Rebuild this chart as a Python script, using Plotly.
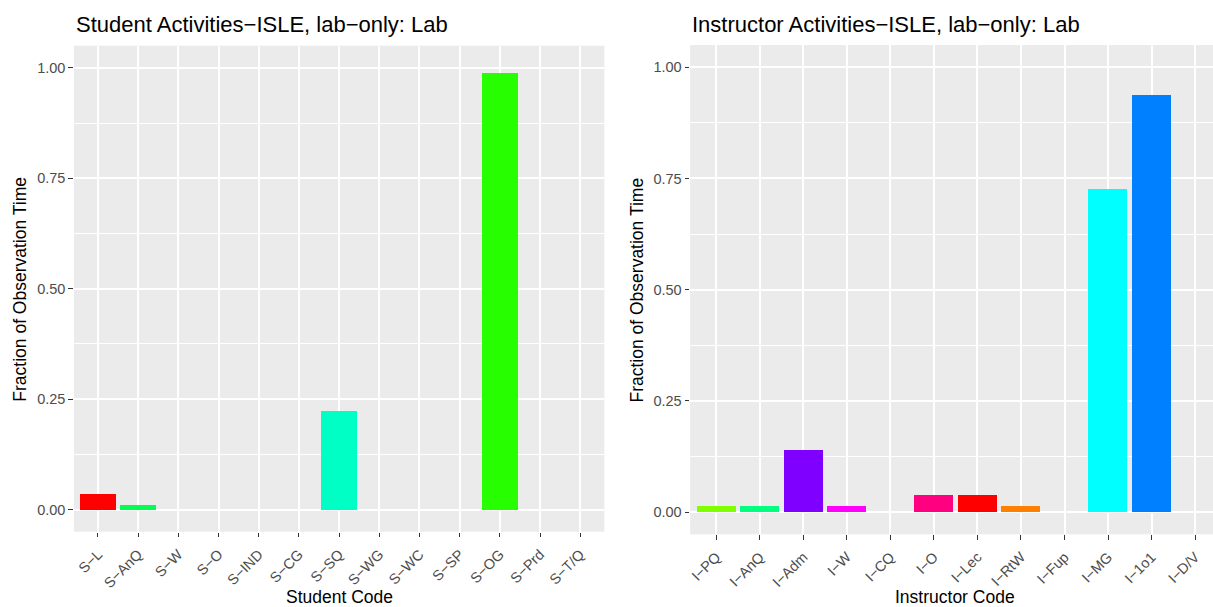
import plotly.graph_objects as go

# ---------------- data ----------------
student_codes = ["S−L", "S−AnQ", "S−W", "S−O", "S−IND", "S−CG", "S−SQ",
                 "S−WG", "S−WC", "S−SP", "S−OG", "S−Prd", "S−T/Q"]
student_values = [0.036, 0.012, 0, 0, 0, 0, 0.2245, 0, 0, 0, 0.988, 0, 0]
student_colors = ["#FF0000", "#00FF4E", "#FFD500", "#0062FF", "#FF7600", "#8900FF",
                  "#00FFC4", "#EBFF00", "#0003FF", "#FF00E2", "#27FF00", "#FF0041", "#00B0FF"]

instructor_codes = ["I−PQ", "I−AnQ", "I−Adm", "I−W", "I−CQ", "I−O", "I−Lec",
                    "I−RtW", "I−Fup", "I−MG", "I−1o1", "I−D/V"]
instructor_values = [0.0128, 0.0128, 0.139, 0.0128, 0, 0.0375, 0.0375,
                     0.0128, 0, 0.727, 0.938, 0]
instructor_colors = ["#80FF00", "#00FF80", "#8000FF", "#FF00FF", "#FFFF00", "#FF0080",
                     "#FF0000", "#FF8000", "#00FF00", "#00FFFF", "#0080FF", "#0000FF"]

y_ticks = [0, 0.25, 0.5, 0.75, 1.0]
y_ticktext = ["0.00", "0.25", "0.50", "0.75", "1.00"]

W, H = 1213, 607
FONT = "Liberation Sans, Arial, Helvetica, sans-serif"

fig = go.Figure()
fig.add_trace(go.Bar(x=student_codes, y=student_values, marker_color=student_colors,
                     marker_line_width=0, width=0.9, xaxis="x", yaxis="y",
                     showlegend=False, hoverinfo="x+y"))
fig.add_trace(go.Bar(x=instructor_codes, y=instructor_values, marker_color=instructor_colors,
                     marker_line_width=0, width=0.9, xaxis="x2", yaxis="y2",
                     showlegend=False, hoverinfo="x+y"))


def px_x(p):
    return p / W


def px_y(p):
    return 1 - p / H


tickfont = dict(family=FONT, size=14.5, color="#4D4D4D")
common_x = dict(type="category", showgrid=True, gridcolor="white", gridwidth=2,
                ticks="outside", ticklen=4.6, tickwidth=1.1, tickcolor="#333333",
                tickangle=-45, tickfont=tickfont, zeroline=False, showline=False,
                ticklabelstandoff=3, fixedrange=True)
common_y = dict(showgrid=True, gridcolor="white", gridwidth=2, tickvals=y_ticks,
                ticktext=y_ticktext, ticks="outside", ticklen=4.6, tickwidth=1.1,
                tickcolor="#333333", tickfont=tickfont, zeroline=False,
                showline=False, range=[-0.05, 1.05], fixedrange=True,
                minor=dict(tickvals=[0.125, 0.375, 0.625, 0.875], showgrid=True,
                           gridcolor="white", gridwidth=1, ticks=""))

fig.update_layout(
    width=W, height=H,
    margin=dict(l=0, r=0, t=0, b=0),
    paper_bgcolor="white", plot_bgcolor="#EBEBEB",
    font=dict(family=FONT),
    bargap=0,
    xaxis=dict(common_x, domain=[px_x(72), px_x(603.3)], range=[-0.6, 12.6],
               anchor="y"),
    yaxis=dict(common_y, domain=[px_y(531.7), px_y(45.7)], anchor="x"),
    xaxis2=dict(common_x, domain=[px_x(689.3), 1.0],
                range=[-0.6, -0.6 + (W - 689.3) / 43.6], anchor="y2"),
    yaxis2=dict(common_y, domain=[px_y(534.3), px_y(45)], anchor="x2"),
)

annots = [
    dict(text="Student Activities−ISLE, lab−only: Lab", x=px_x(72), y=px_y(25),
         xanchor="left", yanchor="middle", font=dict(size=22, color="black")),
    dict(text="Instructor Activities−ISLE, lab−only: Lab", x=px_x(689.3), y=px_y(25),
         xanchor="left", yanchor="middle", font=dict(size=22, color="black")),
    dict(text="Student Code", x=px_x(337.6), y=px_y(597), xanchor="center",
         yanchor="middle", font=dict(size=17.5, color="black")),
    dict(text="Instructor Code", x=px_x(955), y=px_y(597), xanchor="center",
         yanchor="middle", font=dict(size=17.5, color="black")),
    dict(text="Fraction of Observation Time", x=px_x(18), y=px_y(288.7),
         xanchor="center", yanchor="middle", textangle=-90,
         font=dict(size=17.5, color="black")),
    dict(text="Fraction of Observation Time", x=px_x(636), y=px_y(289.6),
         xanchor="center", yanchor="middle", textangle=-90,
         font=dict(size=17.5, color="black")),
]
for a in annots:
    a.update(xref="paper", yref="paper", showarrow=False)
fig.update_layout(annotations=annots)

fig.write_html("out.html",
               config={"displayModeBar": False},
               post_script="document.body.style.margin='0';"
                           "document.body.style.overflow='hidden';")
